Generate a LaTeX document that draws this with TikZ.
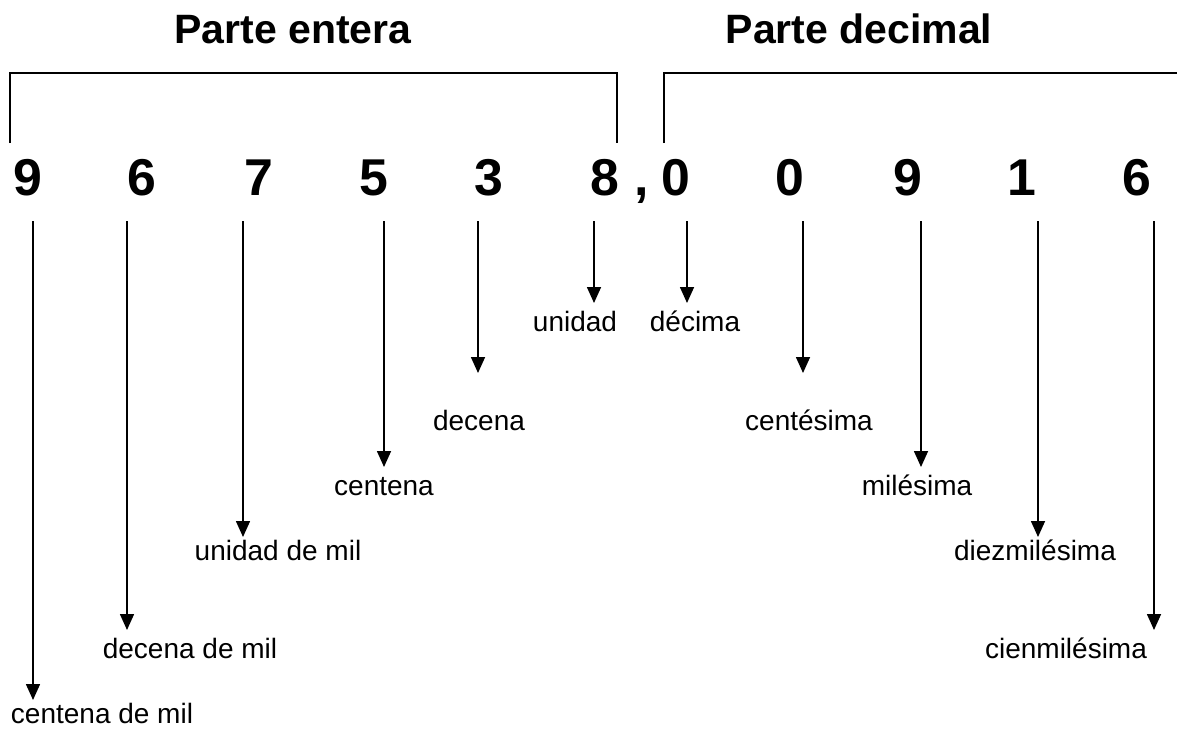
\documentclass[tikz,border=0pt]{standalone}
\usepackage{fontspec}
\setmainfont{Liberation Sans}
\usetikzlibrary{arrows.meta}

\begin{document}
\begin{tikzpicture}[x=0.5pt,y=-0.5pt]
  \tikzset{TitleStyle/.style = {
    anchor        = base,
    inner sep     = 0pt,
    outer sep     = 0pt,
    text          = black,
    font          = \fontsize{20.5}{24}\selectfont\bfseries
    }
  }
  \tikzset{DigitStyle/.style = {
    anchor        = base,
    inner sep     = 0pt,
    outer sep     = 0pt,
    text          = black,
    font          = \fontsize{25.9}{30}\selectfont\bfseries
    }
  }
  \tikzset{LabelStyle/.style = {
    anchor        = base,
    inner sep     = 0pt,
    outer sep     = 0pt,
    text          = black,
    font          = \fontsize{14}{17}\selectfont
    }
  }
  \tikzset{BracketStyle/.style = {
    draw          = black,
    line width    = 0.9pt
    }
  }
  \tikzset{ArrowStyle/.style = {
    draw          = black,
    line width    = 0.8pt,
    -{Triangle[length=8pt,width=7pt]}
    }
  }

  \useasboundingbox (0,0) rectangle (1177,729);
  \clip (0,0) rectangle (1177,729);

  \node[TitleStyle](T1) at (293, 43) {Parte entera};
  \node[TitleStyle](T2) at (859, 43) {Parte decimal};

  \draw[BracketStyle] (10, 143) -- (10, 73) -- (617, 73) -- (617, 143);
  \draw[BracketStyle] (664, 143) -- (664, 73) -- (1178, 73) -- (1178, 143);

  \node[DigitStyle](D01) at (28, 195) {9};
  \node[DigitStyle](D02) at (142, 195) {6};
  \node[DigitStyle](D03) at (259, 195) {7};
  \node[DigitStyle](D04) at (374, 195) {5};
  \node[DigitStyle](D05) at (489, 195) {3};
  \node[DigitStyle](D06) at (605, 195) {8};
  \node[DigitStyle](C00) at (642, 195) {,};
  \node[DigitStyle](D07) at (676, 195) {0};
  \node[DigitStyle](D08) at (790, 195) {0};
  \node[DigitStyle](D09) at (908, 195) {9};
  \node[DigitStyle](D10) at (1022, 195) {1};
  \node[DigitStyle](D11) at (1137, 195) {6};

  \node[LabelStyle](L01) at (102, 723) {centena de mil};
  \node[LabelStyle](L02) at (190, 658) {decena de mil};
  \node[LabelStyle](L03) at (278, 560) {unidad de mil};
  \node[LabelStyle](L04) at (384, 495) {centena};
  \node[LabelStyle](L05) at (479, 430) {decena};
  \node[LabelStyle](L06) at (575, 331) {unidad};
  \node[LabelStyle](L07) at (695, 331) {décima};
  \node[LabelStyle](L08) at (809, 430) {centésima};
  \node[LabelStyle](L09) at (917, 495) {milésima};
  \node[LabelStyle](L10) at (1035, 560) {diezmilésima};
  \node[LabelStyle](L11) at (1066, 658) {cienmilésima};

  \coordinate (A01) at (33, 221);   \coordinate (B01) at (33, 700);
  \coordinate (A02) at (127, 221);  \coordinate (B02) at (127, 630);
  \coordinate (A03) at (243, 221);  \coordinate (B03) at (243, 537);
  \coordinate (A04) at (384, 221);  \coordinate (B04) at (384, 467);
  \coordinate (A05) at (478, 221);  \coordinate (B05) at (478, 373);
  \coordinate (A06) at (594, 221);  \coordinate (B06) at (594, 303);
  \coordinate (A07) at (687, 221);  \coordinate (B07) at (687, 303);
  \coordinate (A08) at (803, 221);  \coordinate (B08) at (803, 373);
  \coordinate (A09) at (921, 221);  \coordinate (B09) at (921, 467);
  \coordinate (A10) at (1038, 221); \coordinate (B10) at (1038, 537);
  \coordinate (A11) at (1154, 221); \coordinate (B11) at (1154, 630);

  \draw[ArrowStyle] (A01) -- (B01);
  \draw[ArrowStyle] (A02) -- (B02);
  \draw[ArrowStyle] (A03) -- (B03);
  \draw[ArrowStyle] (A04) -- (B04);
  \draw[ArrowStyle] (A05) -- (B05);
  \draw[ArrowStyle] (A06) -- (B06);
  \draw[ArrowStyle] (A07) -- (B07);
  \draw[ArrowStyle] (A08) -- (B08);
  \draw[ArrowStyle] (A09) -- (B09);
  \draw[ArrowStyle] (A10) -- (B10);
  \draw[ArrowStyle] (A11) -- (B11);

  \end{tikzpicture}
\end{document}
